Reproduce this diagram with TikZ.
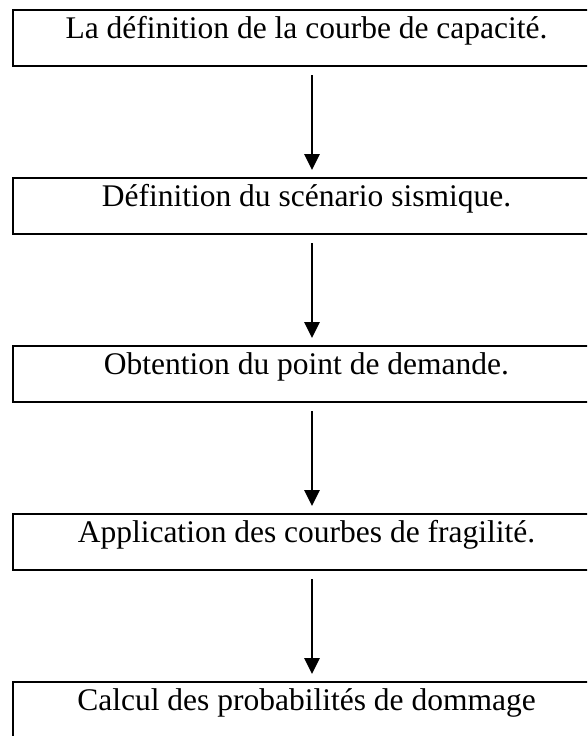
\documentclass[tikz,border=0pt]{standalone}
\usepackage{fontspec}
\setmainfont{Liberation Serif}
\usetikzlibrary{arrows.meta}
\begin{document}
\begin{tikzpicture}[x=1pt,y=-1pt,
  stepbox/.style={draw=black,line width=2.8pt,rectangle,minimum width=587pt,minimum height=56pt,
    inner sep=0pt,outer sep=0pt,text height=9pt,text depth=9pt,
    font=\fontsize{31.5}{36}\selectfont},
  arr/.style={line width=2.7pt,-{Triangle[width=15pt,length=16pt]},shorten <=9pt,shorten >=8pt}]
\clip (0,0) rectangle (587,736);
\fill[white] (0,0) rectangle (587,736);
\node[stepbox] (b1) at (306.5,38) {La définition de la courbe de capacité.};
\node[stepbox] (b2) at (306.5,206) {Définition du scénario sismique.};
\node[stepbox] (b3) at (306.5,374) {Obtention du point de demande.};
\node[stepbox] (b4) at (306.5,542) {Application des courbes de fragilité.};
\node[stepbox] (b5) at (306.5,710) {Calcul des probabilités de dommage};
\draw[arr] ([xshift=5.5pt]b1.south) -- ([xshift=5.5pt]b2.north);
\draw[arr] ([xshift=5.5pt]b2.south) -- ([xshift=5.5pt]b3.north);
\draw[arr] ([xshift=5.5pt]b3.south) -- ([xshift=5.5pt]b4.north);
\draw[arr] ([xshift=5.5pt]b4.south) -- ([xshift=5.5pt]b5.north);
\end{tikzpicture}
\end{document}
